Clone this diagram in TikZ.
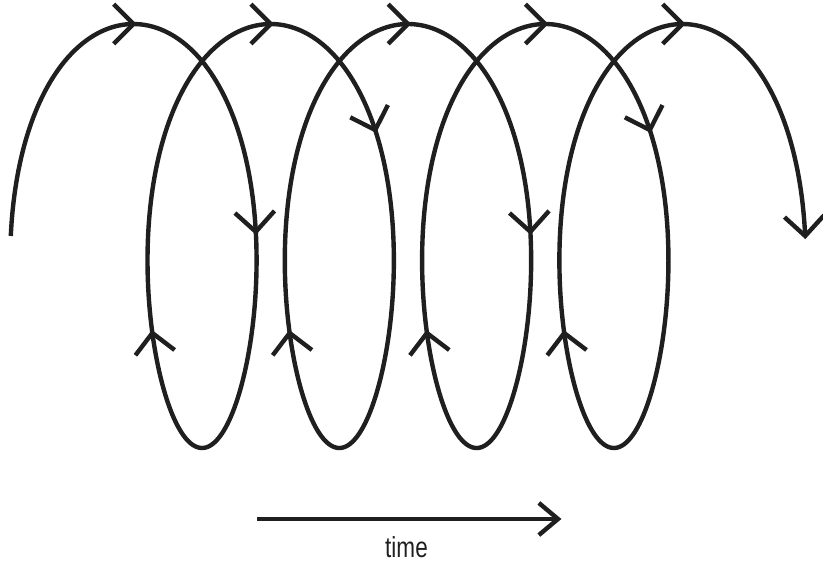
\documentclass[tikz,border=0pt]{standalone}
\usepackage{fontspec}
\setmainfont{Liberation Sans}
\usepackage{graphicx}
\def\hxo{133.4}
\def\hxc{21.85}
\def\hxa{88.3}
\def\hxd{6}
\tikzset{
  coil/.style={line width=4.4bp, line join=round, color=black!88},
  chev/.style={line width=4.4bp, line join=miter, color=black!88},
}
\newcommand\mychev[1]{%
  \pgfmathsetmacro\chx{\hxo+\hxc*(#1)+\hxa*sin(deg(#1))+\hxd*sin(deg(2*(#1)))}%
  \pgfmathsetmacro\chy{236-212*cos(deg(#1))}%
  \pgfmathsetmacro\chdx{\hxc+\hxa*cos(deg(#1))+2*\hxd*cos(deg(2*(#1)))}%
  \pgfmathsetmacro\chdy{212*sin(deg(#1))}%
  \pgfmathsetmacro\cha{atan2(\chdy,\chdx)}%
  \draw[chev] (\chx,\chy) ++({\cha+135}:28) -- (\chx,\chy) -- ++({\cha-135}:28);%
}
\begin{document}
\begin{tikzpicture}[x=1bp,y=-1bp]
\useasboundingbox (0,0) rectangle (823,563);
% coil
\draw[coil] plot[domain=-1.570796:26.703538, samples=900, variable=\t]
  ({\hxo+\hxc*\t+\hxa*sin(deg(\t))+\hxd*sin(deg(2*\t))},{236-212*cos(deg(\t))});
% arrows at tops
\foreach \k in {0,1,2,3,4}{\mychev{2*pi*\k}}
% descending arrows
\mychev{0.5*pi-0.02}
\mychev{4.5*pi-0.02}
\mychev{pi/3+2*pi}
\mychev{pi/3+6*pi}
% ascending arrows
\foreach \k in {0,1,2,3}{\mychev{4.237+2*pi*\k}}
% end arrow
\mychev{8.5*pi}
% time arrow
\coordinate (ts) at (257,519);
\coordinate (te) at (558,519);
\draw[chev] (ts) -- (te);
\draw[chev] (te) ++(220:25) -- (te) -- ++(140:25);
\node[anchor=base, inner sep=0pt, text=black!88] (tlabel) at (406.5,557.5)
  {\fontsize{29}{29}\selectfont\scalebox{0.78}[1]{time}};
\end{tikzpicture}
\end{document}
